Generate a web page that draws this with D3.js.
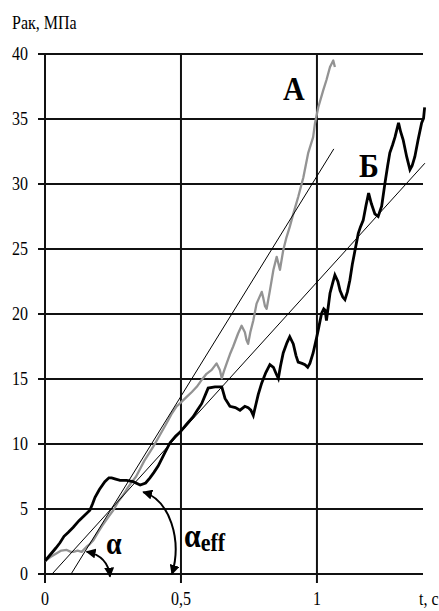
<!DOCTYPE html>
<html>
<head>
<meta charset="utf-8">
<script src="https://cdn.jsdelivr.net/npm/d3@7"></script>
<style>
  html, body { margin: 0; padding: 0; background: #fff; }
  svg { display: block; }
  text { font-family: "Liberation Serif", serif; }
</style>
</head>
<body>
<svg id="chart" width="439" height="611"></svg>
<script>
// Pressure Рак (MPa) against time t (s) for two runs, А and Б,
// with the tangent lines used to read the loading angles.

const yTicks = [0, 5, 10, 15, 20, 25, 30, 35, 40];
const xTicks = [0, 0.5, 1];
const xTickLabels = ["0", "0,5", "1"];
const tMax = 1.39;

// Run А (grey)
const tA = [0, 0.02, 0.043, 0.06, 0.08, 0.095, 0.104, 0.12, 0.135, 0.153, 0.165, 0.178,
  0.195, 0.21, 0.23, 0.251, 0.27, 0.285, 0.30, 0.32, 0.335, 0.35, 0.365, 0.386, 0.398,
  0.42, 0.447, 0.465, 0.484, 0.50, 0.52, 0.54, 0.558, 0.575, 0.594, 0.613, 0.631, 0.643,
  0.65, 0.658, 0.668, 0.68, 0.692, 0.71, 0.723, 0.735, 0.741, 0.747, 0.755, 0.766, 0.778,
  0.797, 0.803, 0.809, 0.815, 0.827, 0.84, 0.852, 0.858, 0.864, 0.876, 0.888, 0.90,
  0.913, 0.931, 0.95, 0.968, 0.986, 0.993, 1.005, 1.023, 1.035, 1.048, 1.06, 1.066];
const vA = [1.0, 1.3, 1.6, 1.8, 1.85, 1.7, 1.7, 1.8, 1.7, 2.1, 2.3, 2.6,
  3.2, 3.7, 4.3, 4.9, 5.6, 6.0, 6.5, 7.1, 7.5, 8.1, 8.7, 9.4, 9.8,
  10.6, 11.6, 12.3, 12.9, 13.2, 13.6, 14.0, 14.4, 14.9, 15.4, 15.7, 16.2, 15.7,
  15.05, 15.6, 16.2, 16.9, 17.5, 18.5, 19.1, 18.6, 18.0, 17.7, 18.6, 19.5, 20.8,
  21.7, 21.2, 20.6, 20.4, 21.8, 23.4, 24.4, 23.9, 23.4, 24.9, 25.9, 26.7,
  27.7, 29.0, 30.5, 32.4, 33.6, 34.7, 35.9, 37.2, 38.0, 39.0, 39.5, 39.0];

// Run Б (black)
const tB = [0, 0.02, 0.04, 0.055, 0.07, 0.085, 0.104, 0.125, 0.145, 0.165, 0.175, 0.184,
  0.2, 0.22, 0.235, 0.245, 0.26, 0.276, 0.30, 0.324, 0.35, 0.37, 0.386, 0.40, 0.416,
  0.44, 0.46, 0.48, 0.496, 0.52, 0.545, 0.56, 0.576, 0.59, 0.60, 0.625, 0.65, 0.662,
  0.68, 0.70, 0.717, 0.735, 0.747, 0.757, 0.766, 0.775, 0.784, 0.797, 0.812, 0.827,
  0.84, 0.85, 0.858, 0.866, 0.876, 0.89, 0.90, 0.913, 0.923, 0.931, 0.945, 0.956,
  0.966, 0.974, 0.986, 1.0, 1.005, 1.017, 1.025, 1.03, 1.035, 1.048, 1.058, 1.066,
  1.077, 1.085, 1.095, 1.103, 1.112, 1.121, 1.13, 1.14, 1.152, 1.16, 1.17, 1.18, 1.19,
  1.20, 1.213, 1.225, 1.238, 1.25, 1.26, 1.268, 1.278, 1.287, 1.30, 1.308, 1.317, 1.33,
  1.342, 1.35, 1.36, 1.372, 1.385, 1.392, 1.396];
const vB = [1.0, 1.5, 2.0, 2.4, 2.9, 3.2, 3.6, 4.1, 4.5, 4.9, 5.4, 5.9,
  6.5, 7.1, 7.4, 7.4, 7.3, 7.2, 7.2, 7.1, 6.85, 7.0, 7.4, 7.8, 8.3,
  9.3, 10.1, 10.6, 10.9, 11.5, 12.1, 12.6, 13.1, 13.8, 14.3, 14.4, 14.4, 13.5,
  12.9, 12.8, 12.6, 12.9, 12.8, 12.6, 12.2, 13.0, 13.8, 14.7, 15.5, 16.1,
  15.9, 15.4, 15.05, 16.0, 17.0, 17.8, 18.25, 17.7, 16.8, 16.3, 16.2, 16.1,
  15.9, 16.2, 17.0, 18.3, 18.8, 20.05, 20.4, 20.3, 19.5, 21.6, 22.4, 23.0,
  22.5, 21.8, 21.3, 21.1, 21.7, 22.6, 23.8, 24.9, 26.2, 26.7, 27.2, 28.3, 29.3,
  28.5, 27.7, 27.5, 28.3, 30.05, 31.4, 32.4, 33.0, 33.6, 34.7, 34.0, 33.4, 32.1,
  31.1, 31.4, 32.1, 33.4, 34.7, 35.05, 35.9];

// Tangent lines (start and end points, t and Рак)
const tanAT = [0.096, 1.062], tanAV = [0, 32.7];
const tanBT = [0.026, 1.397], tanBV = [0, 31.6];

// Angle arrows: [t, Рак] for start, control point(s), end
const arcAlpha = [[0.153, 1.72], [0.232, 1.38], [0.239, -0.2]];
const arcAlphaEff = [[0.361, 6.3], [0.46, 5.7], [0.504, 2.6], [0.467, 0.0]];

const FONT = "Liberation Serif";
const SY = 1.2;   // text is drawn slightly tall

const svg = d3.select("#chart");
const x = d3.scaleLinear().domain([0, tMax]).range([45, 423]);
const y = d3.scaleLinear().domain([0, 40]).range([574, 54]);

function stretch(sel, sy) {
  sel.each(function () {
    const t = d3.select(this);
    const tx = +t.attr("x") || 0, ty = +t.attr("y") || 0;
    t.attr("x", 0).attr("y", 0)
     .attr("transform", `translate(${tx},${ty}) scale(1,${sy})`);
  });
}

// horizontal grid lines with value labels
const gy = svg.append("g")
  .attr("transform", `translate(${x(tMax)},0)`)
  .call(d3.axisLeft(y).tickValues(yTicks).offset(0)
    .tickSize(x(tMax) - 38).tickPadding(10).tickFormat(d3.format("d")));
gy.attr("font-family", FONT).attr("font-size", 16);
gy.select(".domain").remove();
gy.selectAll("line").attr("stroke", "#111").attr("stroke-width", 2);
gy.selectAll("text").attr("fill", "#000");
stretch(gy.selectAll("text"), SY);

// vertical grid lines with time labels
const gx = svg.append("g")
  .attr("transform", `translate(0,${y(40)})`)
  .call(d3.axisBottom(x).tickValues(xTicks).offset(0)
    .tickSize(583 - y(40)).tickPadding(0).tickFormat((d, i) => xTickLabels[i]));
gx.attr("font-family", FONT).attr("font-size", 16);
gx.select(".domain").remove();
gx.selectAll("line").attr("stroke", "#111").attr("stroke-width", 2);
gx.selectAll("text").attr("fill", "#000")
  .attr("y", 605 - y(40)).attr("dy", 0);
stretch(gx.selectAll("text"), SY);

// axis titles
function label(txt, px, py, size, weight, sy, anchor) {
  return svg.append("text")
    .attr("transform", `translate(${px},${py}) scale(1,${sy})`)
    .attr("font-family", FONT).attr("font-size", size).attr("font-weight", weight)
    .attr("text-anchor", anchor || "start").attr("fill", "#000").text(txt);
}
label("Рак, МПа", 12, 29, 16, "normal", SY);
label("t, с", 419, 605, 16, "normal", SY);

const line = d3.line().x(d => x(d[0])).y(d => y(d[1]));

svg.append("path").datum(d3.zip(tA, vA)).attr("d", line)
  .attr("fill", "none").attr("stroke", "#939393").attr("stroke-width", 2.3)
  .attr("stroke-linejoin", "round");
svg.append("path").datum(d3.zip(tB, vB)).attr("d", line)
  .attr("fill", "none").attr("stroke", "#000").attr("stroke-width", 2.8)
  .attr("stroke-linejoin", "miter");

[[tanAT, tanAV], [tanBT, tanBV]].forEach(([ts, vs]) => {
  svg.append("path").datum(d3.zip(ts, vs)).attr("d", line)
    .attr("fill", "none").attr("stroke", "#000").attr("stroke-width", 1);
});

// arrowheads for the angle arcs
svg.append("defs").append("marker")
  .attr("id", "head").attr("viewBox", "0 0 10 10")
  .attr("refX", 9).attr("refY", 5)
  .attr("markerWidth", 5).attr("markerHeight", 5)
  .attr("markerUnits", "strokeWidth")
  .attr("orient", "auto-start-reverse")
  .append("path").attr("d", "M0,0 L10,5 L0,10 Z").attr("fill", "#000");

function arc(pts) {
  const p = d3.path();
  const q = pts.map(([t, v]) => [x(t), y(v)]);
  p.moveTo(...q[0]);
  if (q.length === 3) p.quadraticCurveTo(...q[1], ...q[2]);
  else p.bezierCurveTo(...q[1], ...q[2], ...q[3]);
  svg.append("path").attr("d", p.toString())
    .attr("fill", "none").attr("stroke", "#000").attr("stroke-width", 2)
    .attr("marker-start", "url(#head)").attr("marker-end", "url(#head)");
}
arc(arcAlpha);
arc(arcAlphaEff);

// annotations
label("α", 106, 554, 28, "bold", 1.1);
const eff = svg.append("text")
  .attr("transform", `translate(184,547) scale(1,1.1)`)
  .attr("font-family", FONT).attr("font-weight", "bold").attr("fill", "#000");
eff.append("tspan").attr("font-size", 30).text("α");
eff.append("tspan").attr("font-size", 22).attr("dy", 4).text("eff");

label("А", 283, 100, 30, "bold", 1.1);
label("Б", 359, 177, 30, "bold", 1.1);
</script>
</body>
</html>
